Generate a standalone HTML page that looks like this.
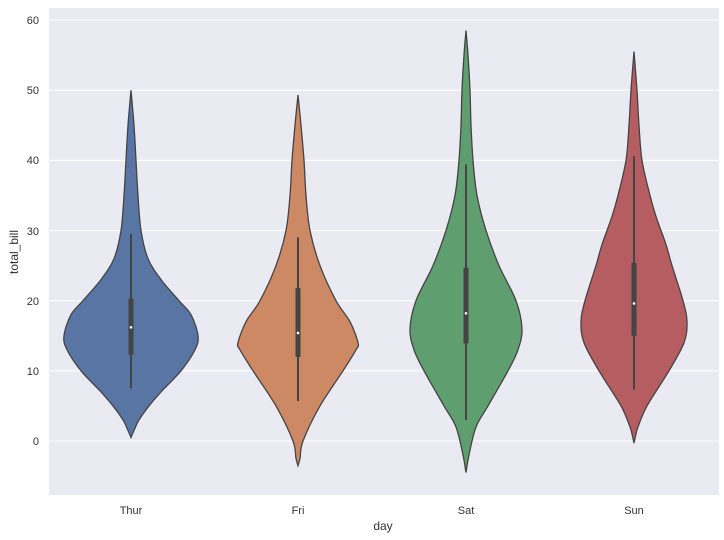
<!DOCTYPE html>
<html><head><meta charset="utf-8"><style>
body{margin:0;background:#fff;}
svg{display:block;font-family:"Liberation Sans","DejaVu Sans",sans-serif;}
</style></head><body>
<svg id="s" width="724" height="540" viewBox="0 0 724 540">
<rect x="49" y="8" width="670" height="487" fill="#eaeaf2"/>
<g stroke="#fff" stroke-width="1.1">
<line x1="49" x2="719" y1="441" y2="441"/><line x1="49" x2="719" y1="370.8" y2="370.8"/>
<line x1="49" x2="719" y1="300.7" y2="300.7"/><line x1="49" x2="719" y1="230.5" y2="230.5"/>
<line x1="49" x2="719" y1="160.3" y2="160.3"/><line x1="49" x2="719" y1="90.2" y2="90.2"/>
<line x1="49" x2="719" y1="20" y2="20"/>
</g>
<g font-size="11" fill="#333" text-anchor="end">
<text x="39" y="445">0</text><text x="39" y="375">10</text><text x="39" y="305">20</text>
<text x="39" y="235">30</text><text x="39" y="164">40</text><text x="39" y="94">50</text><text x="39" y="24">60</text>
</g>
<g font-size="11" fill="#333" text-anchor="middle">
<text x="131" y="514">Thur</text><text x="298" y="514">Fri</text><text x="466" y="514">Sat</text><text x="634" y="514">Sun</text>
<text x="383" y="530" font-size="12">day</text>
<text transform="translate(18,252) rotate(-90)" font-size="12">total_bill</text>
</g>
<g id="v"></g>
</svg>
<script>
function Y(v){return 441-7.017*v;}
var V=[
{x:131,c:"#5875a4",p:[[0.5,0],[1.5,3],[3,8],[5,18],[7,30],[10,50],[13,64],[15,67],[18,60],[20,48],[23,30],[26,17],[30,10],[35,7],[40,5],[45,3],[50,0]],b:[7.5,29.5,12.3,20.3,16.2]},
{x:298,c:"#cc8963",p:[[-3.5,0],[-2.5,2],[0,5],[5,22],[10,45],[13,58],[14,60],[17,52],[20,38],[25,22],[30,12],[35,8],[40,6],[45,3],[49.3,0]],b:[5.7,29,12,21.8,15.4]},
{x:466,c:"#5f9e6e",p:[[-4.5,0],[-2,3],[2,10],[5,22],[10,42],[13,52],[16,56],[20,50],[25,33],[30,20],[35,11],[40,7],[45,5],[50,4],[55,2],[58.5,0]],b:[3,39.4,13.9,24.7,18.2]},
{x:634,c:"#b55d60",p:[[-0.3,0],[1,2],[2,4],[5,13],[10,35],[14,50],[17,53],[20,49],[25,38],[28,32],[32,22],[35,16],[40,8],[45,5],[50,3],[55.5,0]],b:[7.3,40.6,15,25.4,19.6]}
];
function cr(pts){var d="M"+pts[0][0]+","+pts[0][1];
for(var i=0;i<pts.length-1;i++){var p0=pts[i-1]||pts[i],p1=pts[i],p2=pts[i+1],p3=pts[i+2]||p2;
d+="C"+(p1[0]+(p2[0]-p0[0])/6)+","+(p1[1]+(p2[1]-p0[1])/6)+" "+(p2[0]-(p3[0]-p1[0])/6)+","+(p2[1]-(p3[1]-p1[1])/6)+" "+p2[0]+","+p2[1];}
return d;}
var g=document.getElementById("v"),h="";
V.forEach(function(o){
var r=o.p.map(function(q){return[o.x+q[1],Y(q[0])];});
var l=o.p.slice().reverse().map(function(q){return[o.x-q[1],Y(q[0])];});
var d=cr(r)+cr(l).replace(/^M[^C]*/,"")+"Z";
h+='<path d="'+d+'" fill="'+o.c+'" stroke="#444" stroke-width="1.3"/>';
var b=o.b;
h+='<line x1="'+o.x+'" x2="'+o.x+'" y1="'+Y(b[0])+'" y2="'+Y(b[1])+'" stroke="#444" stroke-width="2"/>';
h+='<rect x="'+(o.x-2.5)+'" width="5" y="'+Y(b[3])+'" height="'+(Y(b[2])-Y(b[3]))+'" fill="#444"/>';
h+='<circle cx="'+o.x+'" cy="'+Y(b[4])+'" r="1.3" fill="#fff"/>';
});
g.innerHTML=h;
</script>
</body></html>
